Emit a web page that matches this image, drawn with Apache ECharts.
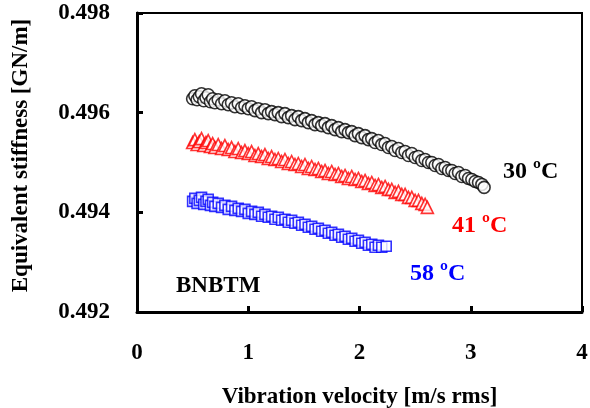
<!DOCTYPE html>
<html>
<head>
<meta charset="utf-8">
<script src="https://cdn.jsdelivr.net/npm/echarts@6/dist/echarts.min.js"></script>
<style>html,body{margin:0;padding:0;background:#fff}#c{width:590px;height:408px}</style>
</head>
<body>
<div id="c"></div>
<script>
var xTicks = [0, 1, 2, 3, 4];
var yTicks = [0.492, 0.494, 0.496, 0.498];
var seriesNames = ['30 ºC', '41 ºC', '58 ºC'];
var sample = 'BNBTM';

var data30 = [[0.50,0.49628],[0.52,0.49634],[0.54,0.49626],[0.56,0.49632],[0.58,0.49638],[0.60,0.49624],[0.62,0.49630],[0.64,0.49636],[0.66,0.49622],[0.68,0.49628],[0.70,0.49620],[0.73,0.49626],[0.76,0.49618],[0.79,0.49624],[0.82,0.49616],[0.85,0.49620],[0.88,0.49612],[0.91,0.49618],[0.94,0.49610],[0.97,0.49614],[1.00,0.49608],[1.03,0.49612],[1.06,0.49604],[1.09,0.49608],[1.12,0.49600],[1.15,0.49606],[1.18,0.49598],[1.21,0.49602],[1.24,0.49596],[1.27,0.49600],[1.30,0.49592],[1.33,0.49598],[1.36,0.49590],[1.39,0.49594],[1.42,0.49586],[1.45,0.49592],[1.48,0.49584],[1.51,0.49588],[1.54,0.49580],[1.57,0.49584],[1.60,0.49576],[1.63,0.49580],[1.66,0.49574],[1.69,0.49578],[1.72,0.49570],[1.75,0.49574],[1.78,0.49566],[1.81,0.49570],[1.84,0.49562],[1.87,0.49566],[1.90,0.49560],[1.93,0.49562],[1.96,0.49554],[1.99,0.49558],[2.02,0.49550],[2.05,0.49554],[2.08,0.49546],[2.11,0.49548],[2.14,0.49540],[2.17,0.49544],[2.20,0.49536],[2.23,0.49538],[2.26,0.49530],[2.29,0.49532],[2.32,0.49524],[2.35,0.49528],[2.38,0.49520],[2.41,0.49522],[2.44,0.49514],[2.47,0.49518],[2.50,0.49510],[2.53,0.49512],[2.56,0.49504],[2.59,0.49506],[2.62,0.49500],[2.65,0.49500],[2.68,0.49494],[2.71,0.49496],[2.74,0.49488],[2.77,0.49490],[2.80,0.49484],[2.83,0.49484],[2.86,0.49478],[2.89,0.49480],[2.92,0.49472],[2.95,0.49474],[2.98,0.49468],[3.01,0.49466],[3.04,0.49462],[3.07,0.49460],[3.10,0.49456],[3.12,0.49450]];

var data41 = [[0.50,0.49540],[0.52,0.49546],[0.54,0.49536],[0.56,0.49542],[0.58,0.49548],[0.60,0.49534],[0.62,0.49540],[0.64,0.49544],[0.66,0.49532],[0.68,0.49538],[0.70,0.49530],[0.73,0.49536],[0.76,0.49528],[0.79,0.49534],[0.82,0.49526],[0.85,0.49530],[0.88,0.49522],[0.91,0.49528],[0.94,0.49520],[0.97,0.49524],[1.00,0.49518],[1.03,0.49522],[1.06,0.49514],[1.09,0.49518],[1.12,0.49512],[1.15,0.49516],[1.18,0.49508],[1.21,0.49512],[1.24,0.49506],[1.27,0.49508],[1.30,0.49502],[1.33,0.49506],[1.36,0.49498],[1.39,0.49502],[1.42,0.49496],[1.45,0.49498],[1.48,0.49492],[1.51,0.49496],[1.54,0.49488],[1.57,0.49492],[1.60,0.49486],[1.63,0.49488],[1.66,0.49482],[1.69,0.49484],[1.72,0.49478],[1.75,0.49482],[1.78,0.49476],[1.81,0.49478],[1.84,0.49472],[1.87,0.49474],[1.90,0.49468],[1.93,0.49472],[1.96,0.49466],[1.99,0.49468],[2.02,0.49462],[2.05,0.49464],[2.08,0.49458],[2.11,0.49460],[2.14,0.49454],[2.17,0.49456],[2.20,0.49450],[2.23,0.49452],[2.26,0.49446],[2.29,0.49446],[2.32,0.49440],[2.35,0.49442],[2.38,0.49436],[2.41,0.49436],[2.44,0.49430],[2.47,0.49430],[2.50,0.49424],[2.53,0.49424],[2.56,0.49418],[2.59,0.49416],[2.61,0.49410]];

var data58 = [[0.50,0.49422],[0.52,0.49428],[0.54,0.49418],[0.56,0.49424],[0.58,0.49430],[0.60,0.49416],[0.62,0.49422],[0.64,0.49426],[0.66,0.49414],[0.68,0.49420],[0.70,0.49412],[0.73,0.49418],[0.76,0.49410],[0.79,0.49414],[0.82,0.49406],[0.85,0.49412],[0.88,0.49404],[0.91,0.49408],[0.94,0.49402],[0.97,0.49406],[1.00,0.49398],[1.03,0.49402],[1.06,0.49396],[1.09,0.49400],[1.12,0.49392],[1.15,0.49396],[1.18,0.49390],[1.21,0.49392],[1.24,0.49386],[1.27,0.49390],[1.30,0.49384],[1.33,0.49386],[1.36,0.49380],[1.39,0.49384],[1.42,0.49378],[1.45,0.49380],[1.48,0.49374],[1.51,0.49376],[1.54,0.49370],[1.57,0.49372],[1.60,0.49366],[1.63,0.49368],[1.66,0.49362],[1.69,0.49364],[1.72,0.49358],[1.75,0.49360],[1.78,0.49354],[1.81,0.49356],[1.84,0.49350],[1.87,0.49352],[1.90,0.49346],[1.93,0.49348],[1.96,0.49342],[1.99,0.49344],[2.02,0.49338],[2.05,0.49340],[2.08,0.49334],[2.11,0.49336],[2.14,0.49330],[2.17,0.49334],[2.20,0.49330],[2.24,0.49332]];

var FONT = '"Liberation Serif", "Times New Roman", serif';
var chart = echarts.init(document.getElementById('c'), null, {renderer: 'canvas'});

function mk(name, data, symbol, size, color) {
  return {
    name: name, type: 'scatter', data: data, symbol: symbol, symbolSize: size,
    itemStyle: {color: '#fff', borderColor: color, borderWidth: 1.6},
    emphasis: {disabled: true}, animation: false
  };
}

chart.setOption({
  animation: false,
  grid: {left: 137, top: 13, width: 445, height: 299, show: true, borderColor: '#000', borderWidth: 2, backgroundColor: 'transparent', containLabel: false, outerBoundsMode: 'none'},
  xAxis: {
    type: 'value', min: xTicks[0], max: xTicks[xTicks.length - 1], interval: 1,
    name: 'Vibration velocity [m/s rms]', nameLocation: 'middle', nameGap: 74,
    nameTextStyle: {fontFamily: FONT, fontWeight: 'bold', fontSize: 23, color: '#000'},
    axisLine: {lineStyle: {color: '#000', width: 3}},
    axisTick: {inside: true, length: 6, lineStyle: {color: '#000', width: 3}},
    axisLabel: {margin: 30, fontFamily: FONT, fontWeight: 'bold', fontSize: 23, color: '#000'},
    splitLine: {show: false}
  },
  yAxis: {
    type: 'value', min: yTicks[0], max: yTicks[yTicks.length - 1], interval: 0.002,
    name: 'Equivalent stiffness [GN/m]', nameLocation: 'middle', nameGap: 104,
    nameTextStyle: {fontFamily: FONT, fontWeight: 'bold', fontSize: 23, color: '#000', padding: [0, 0, 0, 14]},
    axisLine: {lineStyle: {color: '#000', width: 3}},
    axisTick: {inside: true, length: 6, lineStyle: {color: '#000', width: 3}},
    axisLabel: {margin: 27, fontFamily: FONT, fontWeight: 'bold', fontSize: 23, color: '#000',
      formatter: function (v) { return v.toFixed(3); }},
    splitLine: {show: false}
  },
  series: [
    mk(seriesNames[0], data30, 'circle', 12, '#000'),
    mk(seriesNames[1], data41, 'triangle', 12, '#ff0000'),
    mk(seriesNames[2], data58, 'rect', 10, '#0000ff')
  ],
  graphic: [
    {type: 'text', left: 503, top: 160, style: {text: seriesNames[0], fill: '#000', font: 'bold 24px ' + FONT}},
    {type: 'text', left: 452, top: 214, style: {text: seriesNames[1], fill: '#ff0000', font: 'bold 24px ' + FONT}},
    {type: 'text', left: 410, top: 262, style: {text: seriesNames[2], fill: '#0000ff', font: 'bold 24px ' + FONT}},
    {type: 'text', left: 176, top: 275, style: {text: sample, fill: '#000', font: 'bold 23px ' + FONT}}
  ]
});
</script>
</body>
</html>
